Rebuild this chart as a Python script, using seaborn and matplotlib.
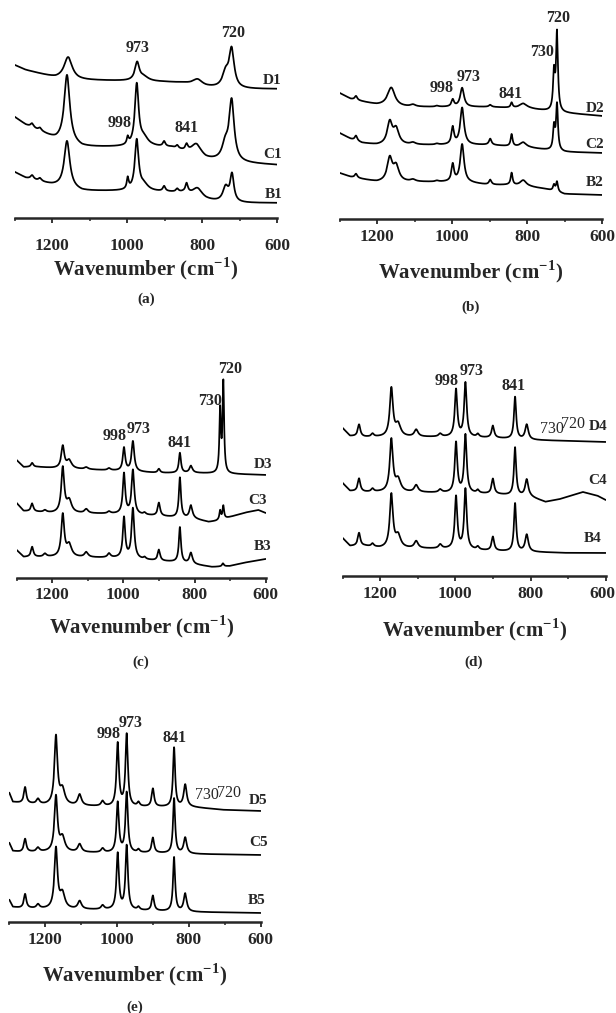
import numpy as np
import pandas as pd
import matplotlib
matplotlib.use('Agg')
import matplotlib.pyplot as plt
from matplotlib.ticker import MultipleLocator
import seaborn as sns

# spectral window (cm-1)
wn_lo, wn_hi = 600, 1300
tick_vals = [1200, 1000, 800, 600]

# each trace: baseline knots (wavenumber, level) + bands (centre, height, half width)
# ---- (a)
d1_base = [(1300, 153), (1270, 148), (1220, 143), (1190, 140), (1130, 138), (1000, 137),
           (900, 136), (850, 135), (790, 131), (760, 130), (700, 129), (600, 129)]
d1_bands = [(1157, 22, 13), (973, 18, 7), (955, 4, 15), (812, 6, 15), (721, 38, 8), (737, 14, 10)]
c1_base = [(1300, 101), (1270, 93), (1220, 84), (1190, 78), (1120, 71), (1000, 71),
           (930, 71), (880, 70), (790, 58), (700, 55), (600, 53)]
c1_bands = [(1253, 4, 5), (1232, 3, 5), (1160, 68, 9), (998, 7, 3), (974, 61, 6), (955, 8, 14),
            (901, 5, 4), (866, 3, 4), (841, 6, 4), (815, 12, 16), (721, 60, 8), (738, 15, 10)]
b1_base = [(1300, 46), (1270, 40), (1200, 33), (1120, 27), (1000, 27), (900, 26),
           (850, 25), (790, 18), (740, 15), (700, 15), (600, 15)]
b1_bands = [(1253, 4, 5), (1232, 3, 5), (1160, 47, 9), (998, 11, 3), (974, 50, 6), (955, 6, 14),
            (901, 5, 4), (866, 3, 4), (841, 9, 4), (812, 9, 15), (720, 27, 6), (737, 15, 9)]

# ---- (b)
d2_base = [(1300, 126), (1270, 120), (1200, 114), (1150, 112), (1000, 112), (900, 112),
           (790, 110), (700, 106), (600, 103)]
d2_bands = [(1256, 4, 4), (1162, 19, 12), (1104, 2, 8), (1040, 1, 5), (998, 7, 4), (973, 19, 6),
            (898, 2, 4), (841, 5, 3), (810, 5, 12), (728, 37, 3), (720, 78, 3)]
c2_base = [(1300, 86), (1270, 80), (1240, 76), (1200, 74), (1000, 74), (900, 74),
           (790, 71), (700, 67), (600, 66)]
c2_bands = [(1256, 5, 4), (1166, 22, 8), (1149, 15, 9), (1104, 2, 8), (1040, 1, 5), (998, 17, 4),
            (973, 37, 6), (898, 6, 4), (841, 12, 3), (810, 5, 10), (728, 23, 3), (720, 46, 3)]
b2_base = [(1300, 46), (1270, 42), (1200, 37), (1000, 37), (950, 36), (900, 34), (850, 34),
           (790, 32), (750, 30), (700, 25), (600, 24)]
b2_bands = [(1256, 4, 4), (1166, 23, 8), (1149, 15, 9), (1104, 2, 8), (1040, 1, 5), (998, 17, 4),
            (973, 38, 6), (898, 5, 4), (841, 12, 3), (810, 6, 10), (728, 6, 3), (720, 10, 3)]

# ---- (c)
d3_base = [(1300, 118), (1280, 111), (1240, 111), (1200, 110), (1000, 107), (900, 105),
           (800, 105), (600, 103)]
d3_bands = [(1256, 4, 4), (1170, 22, 5), (1152, 8, 8), (1104, 2, 6), (1040, 2, 5), (998, 23, 4),
            (973, 30, 4.5), (900, 4, 4), (841, 20, 3.5), (810, 7, 5), (728, 62, 2.5), (719, 90, 2.5)]
c3_base = [(1300, 75), (1280, 67), (1240, 66), (1200, 65), (1000, 64), (900, 62), (800, 59),
           (760, 56), (740, 57), (700, 61), (650, 66), (620, 68), (600, 65)]
c3_bands = [(1256, 8, 4), (1220, 2, 5), (1170, 45, 5), (1152, 12, 8), (1104, 4, 6), (1040, 2, 5),
            (998, 40, 4), (973, 44, 4.5), (940, 2, 4), (900, 13, 4), (841, 40, 3.5), (810, 13, 5),
            (728, 9, 2.5), (719, 13, 2.5)]
b3_base = [(1300, 28), (1280, 21), (1240, 21), (1200, 21), (1000, 20), (900, 17), (850, 16),
           (790, 13), (750, 11), (700, 12), (650, 16), (600, 19)]
b3_bands = [(1256, 10, 4), (1220, 3, 5), (1170, 42, 5), (1152, 12, 8), (1104, 5, 6), (1040, 4, 5),
            (998, 40, 4), (973, 50, 4.5), (940, 2, 4), (900, 11, 4), (841, 35, 3.5), (810, 11, 5),
            (720, 3, 3)]

# ---- (d)
d4_base = [(1300, 148), (1280, 140), (1240, 139), (1200, 139), (1000, 139), (900, 138),
           (800, 136), (700, 135), (600, 134)]
d4_bands = [(1256, 12, 4), (1220, 3, 4), (1170, 48, 5), (1152, 12, 8), (1104, 7, 6), (1040, 3, 5),
            (998, 47, 4), (973, 54, 4), (940, 3, 4), (900, 12, 4), (841, 42, 3.5), (810, 15, 5)]
c4_base = [(1300, 93), (1280, 85), (1240, 84), (1200, 84), (1000, 83), (900, 82), (800, 79),
           (760, 74), (720, 77), (660, 84), (620, 80), (600, 76)]
c4_bands = [(1256, 13, 4), (1220, 3, 4), (1170, 52, 5), (1152, 12, 8), (1104, 7, 6), (1040, 3, 5),
            (998, 50, 4), (973, 58, 4), (940, 3, 4), (900, 15, 4), (841, 48, 3.5), (810, 17, 5)]
b4_base = [(1300, 38), (1280, 30), (1240, 30), (1200, 28), (1000, 27), (900, 25), (800, 24),
           (700, 23), (600, 23)]
b4_bands = [(1256, 13, 4), (1220, 3, 4), (1170, 53, 5), (1152, 12, 8), (1104, 7, 6), (1040, 4, 5),
            (998, 52, 4), (973, 60, 4), (940, 3, 4), (900, 14, 4), (841, 48, 3.5), (810, 17, 5)]

# ---- (e)
d5_base = [(1300, 129), (1290, 120), (1270, 119), (1200, 117), (1000, 115), (900, 115),
           (800, 115), (700, 112), (600, 111)]
d5_bands = [(1256, 16, 4), (1220, 5, 5), (1170, 68, 5), (1152, 15, 8), (1104, 11, 6), (1040, 5, 5),
            (998, 63, 4), (973, 72, 4), (940, 4, 4), (900, 18, 4), (841, 59, 3.5), (810, 22, 5)]
c5_base = [(1300, 79), (1290, 71), (1270, 70), (1200, 70), (1000, 69), (900, 69), (800, 68),
           (600, 67)]
c5_bands = [(1256, 13, 4), (1220, 4, 5), (1170, 55, 5), (1152, 14, 8), (1104, 8, 6), (1040, 4, 5),
            (998, 50, 4), (973, 60, 4), (940, 3, 4), (900, 15, 4), (841, 55, 3.5), (810, 16, 5)]
b5_base = [(1300, 22), (1290, 15), (1270, 14), (1200, 13), (1000, 12), (900, 11), (800, 10),
           (600, 9)]
b5_bands = [(1256, 14, 4), (1220, 4, 5), (1170, 60, 5), (1152, 15, 8), (1104, 8, 6), (1040, 4, 5),
            (998, 56, 4), (973, 64, 4), (940, 3, 4), (900, 15, 4), (841, 54, 3.5), (810, 18, 5)]

# band annotations: (text, wavenumber, level, bold)
a_marks = [("973", 971, 170, True), ("720", 717, 185, True), ("998", 1019, 95, True), ("841", 840, 90, True)]
b_marks = [("998", 1027, 131, True), ("973", 957, 142, True), ("841", 843, 125, True),
           ("730", 760, 167, True), ("720", 717, 201, True)]
c_marks = [("998", 1023, 142, True), ("973", 956, 149, True), ("841", 841, 135, True),
           ("730", 756, 177, True), ("720", 700, 209, True)]
d_marks = [("998", 1022, 195, True), ("973", 958, 205, True), ("841", 844, 190, True),
           ("730", 743, 147, False), ("720", 687, 152, False)]
e_marks = [("998", 1022, 188, True), ("973", 961, 199, True), ("841", 841, 184, True),
           ("730", 749, 127, False), ("720", 688, 129, False)]


def spectrum(base, bands):
    x = np.linspace(wn_lo, wn_hi, 2801)
    kx, ky = zip(*sorted(base))
    y = np.interp(x, kx, ky)
    for c, h, w in bands:
        y = y + h / (1 + ((x - c) / w) ** 2)
    return pd.DataFrame({'wn': x, 'I': y})


# layout in pixels: left/right edge of x axis, axis line y, top of panel
panels = [
    dict(tag='(a)', left=14.5, right=277, axis=218, top=0, pad=11, xl=269, tl=299, edge=False,
         traces=[('D1', d1_base, d1_bands, 613, 138), ('C1', c1_base, c1_bands, 613, 63),
                 ('B1', b1_base, b1_bands, 608, 24)], marks=a_marks),
    dict(tag='(b)', left=339.5, right=602, axis=219, top=0, pad=4, xl=272, tl=307, edge=True,
         traces=[('D2', d2_base, d2_bands, 619, 111), ('C2', c2_base, c2_bands, 619, 74),
                 ('B2', b2_base, b2_bands, 619, 37)], marks=b_marks),
    dict(tag='(c)', left=16.5, right=265.7, axis=578, top=340, pad=3, xl=627, tl=662, edge=False,
         traces=[('D3', d3_base, d3_bands, 608, 113), ('C3', c3_base, c3_bands, 622, 77),
                 ('B3', b3_base, b3_bands, 608, 31)], marks=c_marks),
    dict(tag='(d)', left=342.5, right=605.7, axis=576, top=340, pad=4, xl=630, tl=662, edge=True,
         traces=[('D4', d4_base, d4_bands, 620, 149), ('C4', c4_base, c4_bands, 622, 96),
                 ('B4', b4_base, b4_bands, 634, 38)], marks=d_marks),
    dict(tag='(e)', left=9.3, right=260.6, axis=922, top=690, pad=4, xl=975, tl=1007, edge=False,
         traces=[('D5', d5_base, d5_bands, 607, 121), ('C5', c5_base, c5_bands, 607, 79),
                 ('B5', b5_base, b5_bands, 610, 22)], marks=e_marks),
]

sns.set_theme(style='ticks')
plt.rcParams['font.family'] = ['Liberation Serif', 'DejaVu Serif']
plt.rcParams['mathtext.fontset'] = 'custom'
plt.rcParams['mathtext.rm'] = 'Liberation Serif:bold'
plt.rcParams['mathtext.bf'] = 'Liberation Serif:bold'

W, H = 616, 1013
fig = plt.figure(figsize=(W / 100, H / 100), dpi=100)
tick_len = 3.5

for p in panels:
    ax = fig.add_axes([p['left'] / W, 1 - p['axis'] / H,
                       (p['right'] - p['left']) / W, (p['axis'] - p['top']) / H])
    for name, base, bands, lx, ly in p['traces']:
        df = spectrum(base, bands)
        sns.lineplot(data=df, x='wn', y='I', ax=ax, color='black', linewidth=1.25,
                     estimator=None, sort=False)
        ax.text(lx, ly, name, ha='center', va='center', fontsize=11, fontweight='bold')
    for txt, x, y, bold in p['marks']:
        ax.text(x, y, txt, ha='center', va='center', fontsize=11.5,
                fontweight='bold' if bold else 'normal')

    ax.set_xlim(wn_hi, wn_lo)
    ax.set_ylim(0, p['axis'] - p['top'])
    ax.set_xlabel('')
    ax.set_ylabel('')
    for s in ['left', 'top', 'right']:
        ax.spines[s].set_visible(False)
    ax.spines['bottom'].set_linewidth(1.8)
    ax.set_yticks([])

    # last label sits on the figure's right border in the right-hand column: pull it inside
    labels = [str(v) for v in tick_vals]
    if p['edge']:
        labels[-1] = ''
    ax.set_xticks(tick_vals, labels)
    ax.xaxis.set_minor_locator(MultipleLocator(100))
    ax.tick_params(axis='x', which='major', direction='out', length=tick_len, width=1.3,
                   pad=p['pad'], labelsize=12.5)
    ax.tick_params(axis='x', which='minor', direction='out', length=2.5, width=1.1)
    for lab in ax.get_xticklabels():
        lab.set_fontweight('bold')
    if p['edge']:
        ytop = p['axis'] + (tick_len + p['pad']) * 100 / 72
        fig.text(615 / W, 1 - ytop / H, str(tick_vals[-1]), ha='right', va='top',
                 fontsize=12.5, fontweight='bold')

    cx = (p['left'] + p['right']) / 2 / W
    fig.text(cx, 1 - p['xl'] / H, r'Wavenumber (cm$^{\mathbf{-1}}$)', ha='center', va='center',
             fontsize=15, fontweight='bold')
    fig.text(cx, 1 - p['tl'] / H, p['tag'], ha='center', va='center', fontsize=11, fontweight='bold')

fig.savefig('out.png', dpi=100)
